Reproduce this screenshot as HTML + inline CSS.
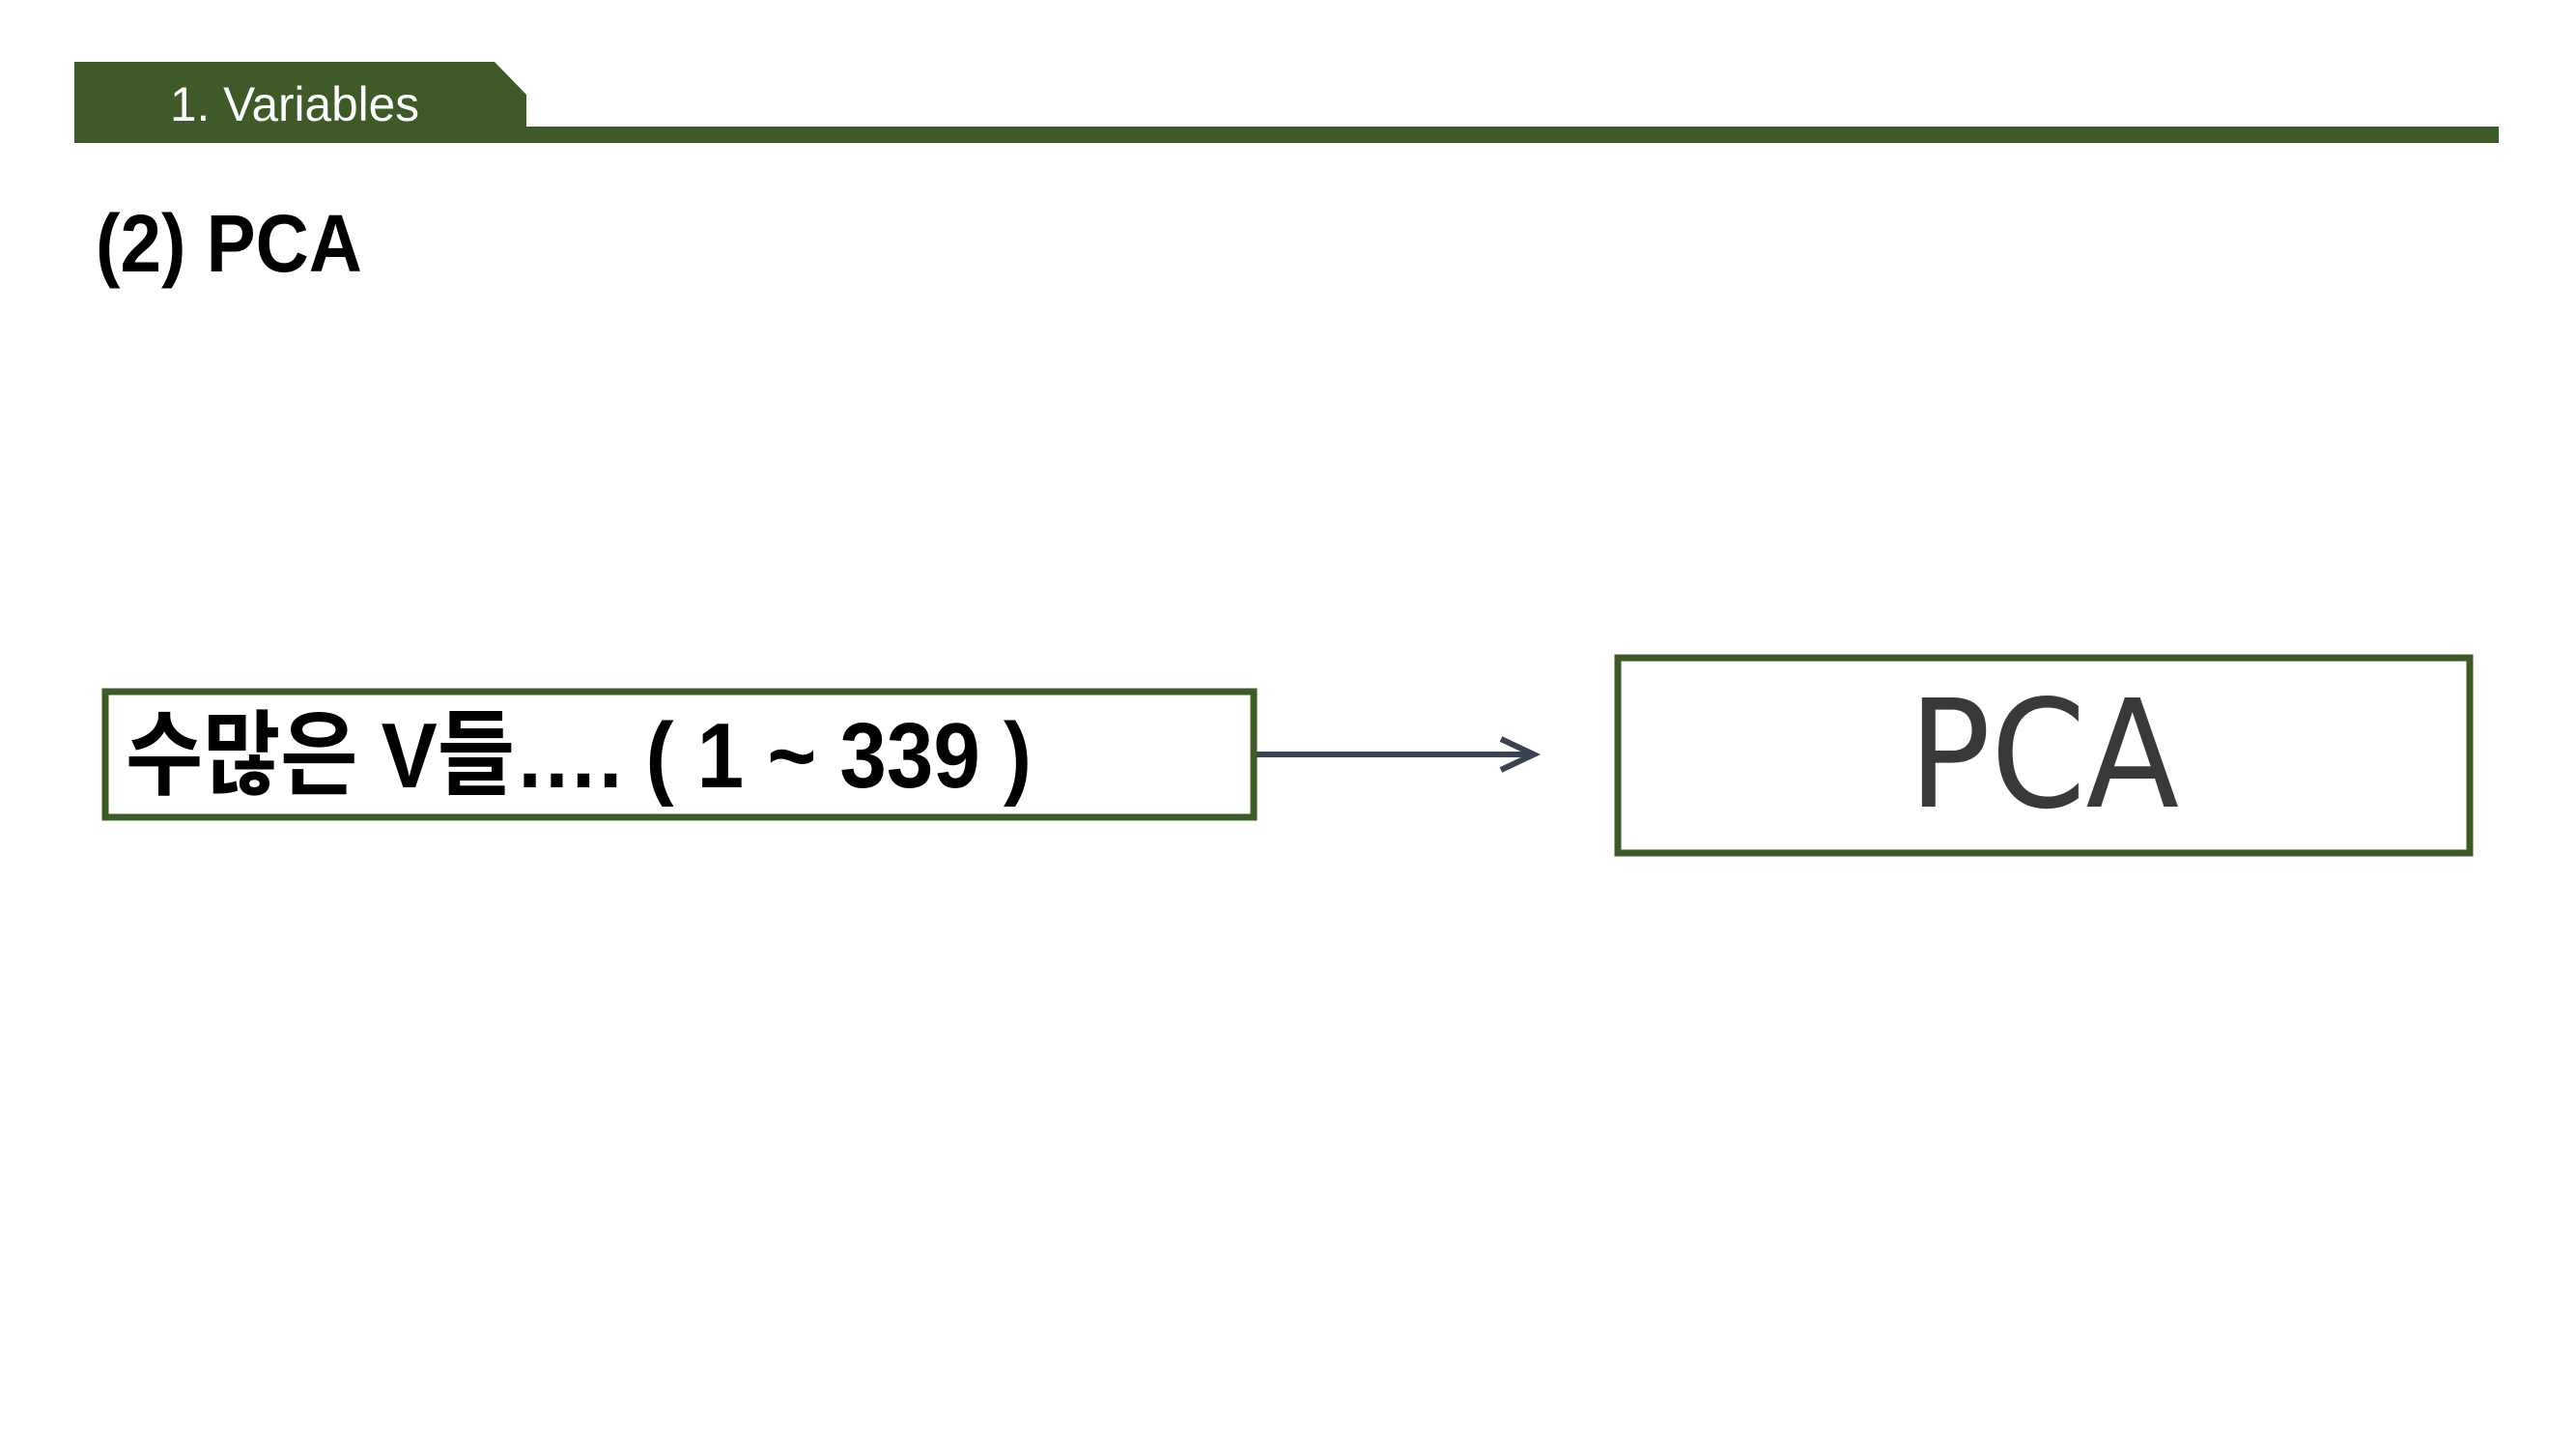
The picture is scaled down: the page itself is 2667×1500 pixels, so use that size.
<!DOCTYPE html>
<html><head><meta charset="utf-8"><style>
html,body{margin:0;padding:0;background:#fff;}
svg{display:block;}
</style></head><body>
<svg width="2667" height="1500" viewBox="0 0 2667 1500" xmlns="http://www.w3.org/2000/svg">
<rect width="2667" height="1500" fill="#fff"/>
<polygon points="77,64 512,64 545,98 545,131 2587,131 2587,148 77,148" fill="#3d5a27"/>
<text x="176" y="125" font-family="Liberation Sans, sans-serif" font-size="50" fill="#fff" textLength="258" lengthAdjust="spacingAndGlyphs">1. Variables</text>
<text x="99" y="281" font-family="Liberation Sans, sans-serif" font-weight="bold" font-size="84" fill="#000" textLength="276" lengthAdjust="spacingAndGlyphs">(2)  PCA</text>
<rect x="109" y="716" width="1189" height="130" fill="#fff" stroke="#3d5a27" stroke-width="7"/>
<text x="130" y="815" font-family="Liberation Sans, 'Noto Sans CJK KR', sans-serif" font-weight="bold" font-size="96" fill="#000" textLength="938" lengthAdjust="spacingAndGlyphs">수많은 V들…. ( 1 ~ 339 )</text>
<line x1="1301" y1="781" x2="1584" y2="781" stroke="#3a4150" stroke-width="6"/>
<polyline points="1554,765 1588,781 1554,797" fill="none" stroke="#3a4150" stroke-width="6"/>
<rect x="1675" y="681" width="882" height="202" fill="#fff" stroke="#3d5a27" stroke-width="7"/>
<text x="1976" y="835" font-family="DejaVu Sans, Liberation Sans, sans-serif" font-size="155" fill="#3b3838" textLength="280" lengthAdjust="spacingAndGlyphs">PCA</text>
</svg>
</body></html>
